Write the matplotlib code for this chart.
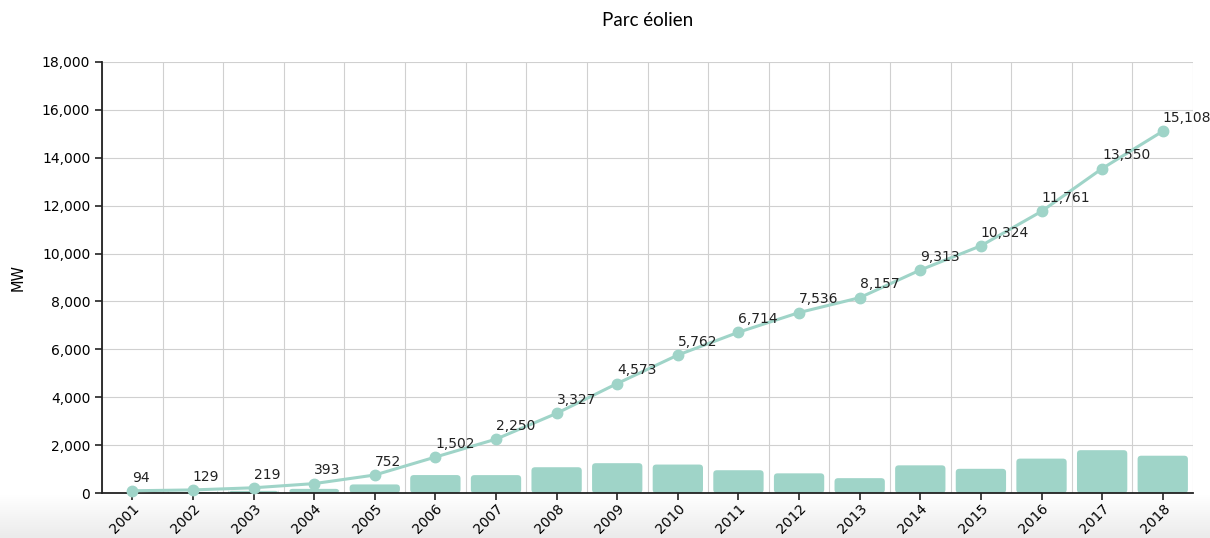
import numpy as np
import matplotlib.pyplot as plt
from matplotlib.colors import LinearSegmentedColormap
from matplotlib.patches import FancyBboxPatch
from matplotlib.ticker import FuncFormatter, MultipleLocator

years = ['2001', '2002', '2003', '2004', '2005', '2006', '2007', '2008', '2009',
         '2010', '2011', '2012', '2013', '2014', '2015', '2016', '2017', '2018']
parc = [94, 129, 219, 393, 752, 1502, 2250, 3327, 4573,
        5762, 6714, 7536, 8157, 9313, 10324, 11761, 13550, 15108]
ajout = [0, 35, 90, 174, 359, 750, 748, 1077, 1246,
         1189, 952, 822, 621, 1156, 1011, 1437, 1789, 1558]

teal = '#9fd4c8'
plt.rcParams['font.family'] = ['DejaVu Sans']

fig = plt.figure(figsize=(12.1, 5.38), dpi=100)

# light grey gradient at the bottom of the figure
bg = fig.add_axes([0, 0, 1, 0.08], zorder=-5)
grad = np.linspace(0, 1, 50).reshape(-1, 1)
cmap = LinearSegmentedColormap.from_list('g', ['#ffffff', '#ebebeb'])
bg.imshow(grad, aspect='auto', cmap=cmap, extent=[0, 1, 0, 1], vmin=0, vmax=1)
bg.axis('off')

ax = fig.add_axes([0.0843, 0.0836, 0.9017, 0.8012])
ax.patch.set_alpha(0)
x = np.arange(len(years))

bars = ax.bar(x, ajout, width=0.83, color=teal)
for b in bars:
    b.set_visible(False)
    if b.get_height() <= 0:
        continue
    p = FancyBboxPatch((b.get_x(), 0), b.get_width(), b.get_height(),
                       boxstyle='round,pad=0,rounding_size=0.06',
                       mutation_aspect=2400, facecolor=teal, edgecolor='none', zorder=2)
    ax.add_patch(p)

ax.plot(x, parc, color=teal, lw=2.2, marker='o', ms=7.5, zorder=3, clip_on=False)
for xi, v in zip(x, parc):
    ax.annotate(f'{v:,}', (xi, v), xytext=(0, 4.5), textcoords='offset points',
                ha='left', va='bottom', fontsize=10, color='#222222', zorder=4)

ax.set_xlim(-0.5, len(years) - 0.5)
ax.set_ylim(0, 18000)
ax.yaxis.set_major_locator(MultipleLocator(2000))
ax.yaxis.set_major_formatter(FuncFormatter(lambda v, p: f'{int(v):,}'))
ax.set_xticks(x)
ax.set_xticklabels(years, rotation=45, ha='right', rotation_mode='anchor', fontsize=10)
ax.set_xticks(np.arange(-0.5, len(years)), minor=True)
ax.tick_params(axis='x', which='minor', length=0)
ax.tick_params(axis='both', which='major', length=5, width=1.2, color='#222222', labelsize=10)
ax.tick_params(axis='x', which='major', pad=1)
ax.grid(True, which='minor', axis='x', color='#d0d0d0', lw=0.8)
ax.grid(True, which='major', axis='y', color='#d0d0d0', lw=0.8)
ax.set_axisbelow(True)
for s in ['top', 'right']:
    ax.spines[s].set_visible(False)
for s in ['left', 'bottom']:
    ax.spines[s].set_linewidth(1.3)
    ax.spines[s].set_color('#222222')

ax.set_ylabel('MW', fontsize=10.5, labelpad=12)
ax.set_title('Parc éolien', fontsize=13.5, pad=26, fontfamily='Lato')

fig.savefig('out.png', dpi=100)
